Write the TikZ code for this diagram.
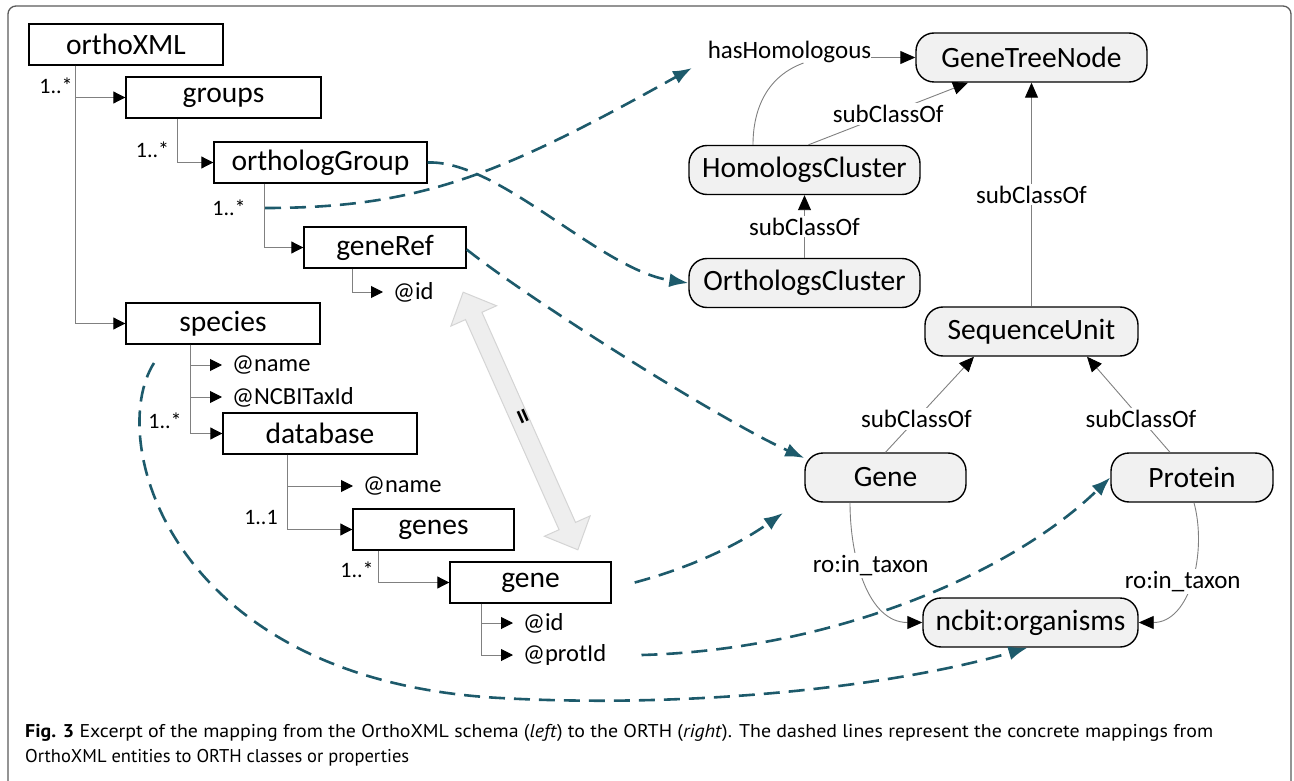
\documentclass[tikz,border=0pt]{standalone}
\usepackage{fontspec}
\setmainfont{Carlito}
\newfontfamily\capfont{PT Sans}
\usetikzlibrary{arrows.meta}
\definecolor{teal1}{HTML}{1D5A6B}
\definecolor{treegray}{HTML}{808080}
\definecolor{nodefill}{HTML}{F1F1F1}
\definecolor{dafill}{HTML}{EEEEEE}
\definecolor{dadraw}{HTML}{D4D4D4}
\definecolor{framegray}{HTML}{5A5A5A}
\begin{document}
\begin{tikzpicture}[x=1pt,y=1pt,
  xbox/.style={draw=black,line width=1.4pt,fill=white,minimum height=41pt,inner sep=0pt,font=\fontsize{29.5}{34}\selectfont},
  cls/.style={draw=black,line width=1.4pt,fill=nodefill,rounded corners=18pt,minimum height=49pt,inner sep=0pt,font=\fontsize{29.5}{34}\selectfont},
  attr/.style={anchor=west,inner xsep=10pt,inner ysep=0pt,font=\fontsize{24.5}{28}\selectfont},
  card/.style={inner sep=0pt,font=\fontsize{22}{26}\selectfont},
  tree/.style={draw=treegray,line width=1pt,-{Triangle[length=12pt,width=12pt,black]}},
  rel/.style={draw=treegray,line width=0.9pt},
  relarrow/.style={rel,-{Triangle[length=15pt,width=13pt,black]}},
  lbl/.style={fill=white,inner sep=2pt,font=\fontsize{25}{29}\selectfont},
  map/.style={draw=teal1,line width=2.6pt,dash pattern=on 16pt off 9pt,-{Latex[length=19pt,width=14pt]}},
  captext/.style={anchor=base west,inner sep=0pt,font=\capfont\fontsize{18.5}{22}\selectfont}
]
\useasboundingbox (0,0) rectangle (1294,-781);
% frame
\draw[framegray,line width=1.3pt,rounded corners=8pt] (8,-800) -- (8,-6) -- (1291,-6) -- (1291,-800);

% double arrow (equality)
\begin{scope}[shift={(520.5,-421)},rotate=-66]
\draw[fill=dafill,draw=dadraw,line width=1pt] (-141,0) -- (-115,25) -- (-115,9) -- (115,9) -- (115,25) -- (141,0) -- (115,-25) -- (115,-9) -- (-115,-9) -- (-115,-25) -- cycle;
\end{scope}
\node[rotate=-66,inner sep=0pt,font=\bfseries\fontsize{30}{34}\selectfont] (eq) at (521,-418) {=};

% OrthoXML schema (left)
\node[xbox,minimum width=194pt] (orthoXML) at (126,-44.5) {orthoXML};
\node[xbox,minimum width=195pt] (groups) at (223.5,-97.5) {groups};
\node[xbox,minimum width=213pt] (orthologGroup) at (320.5,-162.5) {orthologGroup};
\node[xbox,minimum width=162pt] (geneRef) at (385,-247.5) {geneRef};
\node[xbox,minimum width=194pt] (species) at (223,-323.5) {species};
\node[xbox,minimum width=194pt] (database) at (320,-433.5) {database};
\node[xbox,minimum width=161pt] (genes) at (433.5,-529.5) {genes};
\node[xbox,minimum width=161pt] (gene) at (530.5,-582.5) {gene};

\node[attr] (a1) at (383,-292) {@id};
\node[attr] (a2) at (222,-365) {@name};
\node[attr] (a3) at (222,-397) {@NCBITaxId};
\node[attr] (a4) at (353,-486) {@name};
\node[attr] (a5) at (513,-623) {@id};
\node[attr] (a6) at (513,-655) {@protId};

\node[card] (c1) at (56,-86) {1..*};
\node[card] (c2) at (152.5,-150) {1..*};
\node[card] (c3) at (229,-208) {1..*};
\node[card] (c4) at (165,-421) {1..*};
\node[card] (c5) at (261,-518) {1..1};
\node[card] (c6) at (357,-570) {1..*};

\draw[tree] ([xshift=47pt]orthoXML.south west) |- (groups.west);
\draw[tree] ([xshift=47pt]orthoXML.south west) |- (species.west);
\draw[tree] ([xshift=52pt]groups.south west) |- (orthologGroup.west);
\draw[tree] ([xshift=51pt]orthologGroup.south west) |- (geneRef.west);
\draw[tree] ([xshift=49pt]geneRef.south west) |- (a1.west);
\draw[tree] ([xshift=65pt]species.south west) |- (a2.west);
\draw[tree] ([xshift=65pt]species.south west) |- (a3.west);
\draw[tree] ([xshift=65pt]species.south west) |- (database.west);
\draw[tree] ([xshift=65pt]database.south west) |- (a4.west);
\draw[tree] ([xshift=65pt]database.south west) |- (genes.west);
\draw[tree] ([xshift=26pt]genes.south west) |- (gene.west);
\draw[tree] ([xshift=32pt]gene.south west) |- (a5.west);
\draw[tree] ([xshift=32pt]gene.south west) |- (a6.west);

% ORTH ontology (right)
\node[cls,minimum width=231pt] (GTN) at (1031.5,-57.5) {GeneTreeNode};
\node[cls,minimum width=231pt] (HC) at (804.5,-170) {HomologsCluster};
\node[cls,minimum width=231pt] (OC) at (804.5,-283) {OrthologsCluster};
\node[cls,minimum width=213pt] (SU) at (1031.5,-331.5) {SequenceUnit};
\node[cls,minimum width=161pt] (Gene) at (885.5,-477.5) {Gene};
\node[cls,minimum width=162pt] (Protein) at (1192,-477.5) {Protein};
\node[cls,minimum width=215pt] (ncbit) at (1030.5,-622.5) {ncbit:organisms};

\node[inner sep=0pt,font=\fontsize{25}{29}\selectfont] (hasH) at (789.5,-52) {hasHomologous};
\draw[relarrow] (hasH.east |- GTN.west) -- (GTN.west);
\draw[rel] ([xshift=-51.5pt]HC.north) to[out=90,in=200] ([xshift=14pt]hasH.south);
\draw[relarrow] ([xshift=4pt]HC.north) -- node[lbl]{subClassOf} ([xshift=-63.5pt]GTN.south);
\draw[relarrow] (OC.north) -- node[lbl]{subClassOf} (HC.south);
\draw[relarrow] (SU.north) -- node[lbl]{subClassOf} (GTN.south);
\draw[relarrow] (Gene.north) -- node[lbl,pos=0.35]{subClassOf} ([xshift=-57.5pt]SU.south);
\draw[relarrow] ([xshift=-22pt]Protein.north) -- node[lbl,pos=0.35]{subClassOf} ([xshift=55.5pt]SU.south);
\draw[relarrow] ([xshift=-35.5pt]Gene.south) to[out=-90,in=180] node[lbl,pos=0.38,xshift=12pt]{ro:in\_taxon} (ncbit.west);
\draw[relarrow] ([xshift=2pt]Protein.south) to[out=-75,in=0] node[lbl,pos=0.5,xshift=-8pt]{ro:in\_taxon} (ncbit.east);

% mappings (dashed)
\coordinate (d1s) at (265,-208);
\coordinate (d1e) at (692,-68);
\coordinate (d4e) at (783,-513);
\coordinate (d6s) at (154,-363);
\draw[map] (d1s) .. controls (420,-208) and (500,-175) .. (d1e);
\draw[map] (orthologGroup.east) .. controls (500,-160) and (600,-270) .. (OC.west);
\draw[map] ([yshift=-2pt]geneRef.east) .. controls (530,-300) and (720,-420) .. ([yshift=19.5pt]Gene.west);
\draw[map] ([xshift=23pt]gene.east) .. controls (700,-565) and (745,-540) .. (d4e);
\draw[map] ([xshift=25pt]a6.east) .. controls (830,-650) and (1010,-575) .. (Protein.west);
\draw[map] (d6s) .. controls (105,-440) and (170,-680) .. (500,-698) .. controls (700,-709) and (900,-685) .. ([xshift=-3pt]ncbit.south);

% caption
\node[captext] (cap1) at (25,-737) {\resizebox{1188pt}{\height}{\textbf{Fig. 3} Excerpt of the mapping from the OrthoXML schema (\textit{left}) to the ORTH (\textit{right}). The dashed lines represent the concrete mappings from}};
\node[captext] (cap2) at (25,-762) {\resizebox{384pt}{\height}{OrthoXML entities to ORTH classes or properties}};
\end{tikzpicture}
\end{document}
